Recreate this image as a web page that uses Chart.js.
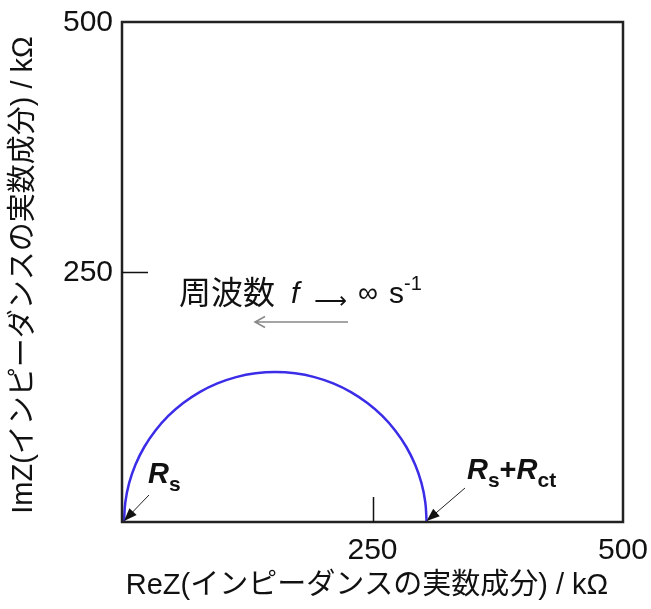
<!DOCTYPE html>
<html>
<head>
<meta charset="utf-8">
<script src="https://cdn.jsdelivr.net/npm/chart.js@4"></script>
<style>
  html, body { margin: 0; padding: 0; background: #fff; }
  #wrap { width: 651px; height: 609px; }
</style>
</head>
<body>
<div id="wrap"><canvas id="myChart" width="651" height="609"></canvas></div>
<script>
// Nyquist plot, values (kOhm)
var reZ = [2, 3.3, 7.1, 13.5, 22.2, 33.2, 46.2, 61.1, 77.5, 95.2, 113.9, 133.3, 153,
           172.7, 192.1, 210.8, 228.5, 244.9, 259.8, 272.8, 283.8, 292.5, 298.9, 302.7, 304];
var imZ = [0, 19.6, 38.8, 57.4, 75, 91.3, 106.1, 119, 129.9, 138.6, 144.9, 148.7, 150,
           148.7, 144.9, 138.6, 129.9, 119, 106.1, 91.3, 75, 57.4, 38.8, 19.6, 0];
var xTicks = [250, 500];
var yTicks = [250, 500];
var xTitle = 'ReZ(インピーダンスの実数成分) / kΩ';
var yTitle = 'ImZ(インピーダンスの実数成分) / kΩ';

var LAT = '"Liberation Sans", "Noto Sans CJK JP", sans-serif';

function arrowFilled(ctx, x1, y1, x2, y2) {
    var a = Math.atan2(y2 - y1, x2 - x1);
    ctx.strokeStyle = '#222';
    ctx.fillStyle = '#111';
    ctx.lineWidth = 1;
    ctx.beginPath();
    ctx.moveTo(x1, y1);
    ctx.lineTo(x2 - 10 * Math.cos(a), y2 - 10 * Math.sin(a));
    ctx.stroke();
    ctx.beginPath();
    ctx.moveTo(x2, y2);
    ctx.lineTo(x2 - 13 * Math.cos(a) + 5 * Math.sin(a), y2 - 13 * Math.sin(a) - 5 * Math.cos(a));
    ctx.lineTo(x2 - 13 * Math.cos(a) - 5 * Math.sin(a), y2 - 13 * Math.sin(a) + 5 * Math.cos(a));
    ctx.closePath();
    ctx.fill();
}

// draws the parts of a label one after another (r.x = fixed position if given)
function drawRuns(ctx, x, runs) {
    runs.forEach(function(r) {
        ctx.font = r.font;
        ctx.fillStyle = '#111';
        ctx.textAlign = 'left';
        ctx.textBaseline = 'alphabetic';
        if (r.x !== undefined) x = r.x;
        ctx.fillText(r.t, x, r.y);
        x += ctx.measureText(r.t).width;
    });
}

var decor = {
    id: 'decor',
    afterDraw: function(chart) {
        var ctx = chart.ctx;
        var a = chart.chartArea;
        var xs = chart.scales.x, ys = chart.scales.y;
        ctx.save();

        // frame
        ctx.strokeStyle = '#222';
        ctx.lineWidth = 2.5;
        ctx.strokeRect(a.left, a.top, a.right - a.left, a.bottom - a.top);

        // inner ticks
        ctx.strokeStyle = '#111';
        ctx.lineWidth = 1.5;
        ctx.beginPath();
        var ty = Math.round(ys.getPixelForValue(250)) + 0.5;
        ctx.moveTo(a.left, ty); ctx.lineTo(a.left + 26, ty);
        var tx = Math.round(xs.getPixelForValue(250)) + 0.5;
        ctx.moveTo(tx, a.bottom); ctx.lineTo(tx, a.bottom - 25);
        ctx.stroke();

        // tick labels
        ctx.fillStyle = '#111';
        ctx.font = '30px ' + LAT;
        ctx.textAlign = 'right';
        ctx.textBaseline = 'middle';
        yTicks.forEach(function(v) {
            ctx.fillText(String(v), a.left - 9, ys.getPixelForValue(v) + 1);
        });
        ctx.textAlign = 'center';
        ctx.textBaseline = 'alphabetic';
        xTicks.forEach(function(v) {
            ctx.fillText(String(v), xs.getPixelForValue(v), a.bottom + 37);
        });

        // axis titles
        ctx.font = '29px ' + LAT;
        ctx.fillText(xTitle, 367, 594);
        ctx.save();
        ctx.translate(24, 275);
        ctx.rotate(-Math.PI / 2);
        ctx.textBaseline = 'middle';
        ctx.fillText(yTitle, 0, 0);
        ctx.restore();

        // frequency note
        drawRuns(ctx, 179, [
            { t: '周波数', font: '32px ' + LAT, y: 304 },
            { t: 'f', font: 'italic 30px ' + LAT, y: 303, x: 291 },
            { t: '⟶', font: '23px "DejaVu Sans", sans-serif', y: 308, x: 314 },
            { t: '∞', font: '28px ' + LAT, y: 302, x: 358 },
            { t: 's', font: '30px ' + LAT, y: 303, x: 389 },
            { t: '-1', font: '20px ' + LAT, y: 290 }
        ]);
        ctx.strokeStyle = '#888';
        ctx.lineWidth = 1.5;
        ctx.beginPath();
        ctx.moveTo(348, 322); ctx.lineTo(255, 322);
        ctx.moveTo(265, 316.5); ctx.lineTo(255, 322); ctx.lineTo(265, 327.5);
        ctx.stroke();

        // Rs and Rs+Rct labels
        var bi = 'italic bold 29px ' + LAT;
        var sb = 'bold 21px ' + LAT;
        drawRuns(ctx, 148, [
            { t: 'R', font: bi, y: 483 },
            { t: 's', font: sb, y: 491 }
        ]);
        drawRuns(ctx, 467, [
            { t: 'R', font: bi, y: 479 },
            { t: 's', font: sb, y: 487 },
            { t: '+', font: 'bold 29px ' + LAT, y: 479 },
            { t: 'R', font: bi, y: 479 },
            { t: 'ct', font: sb, y: 487 }
        ]);
        arrowFilled(ctx, 149, 495, xs.getPixelForValue(reZ[0]), ys.getPixelForValue(0) - 1);
        arrowFilled(ctx, 465, 488, xs.getPixelForValue(reZ[reZ.length - 1]), ys.getPixelForValue(0) - 1);

        ctx.restore();
    }
};

var points = reZ.map(function(v, i) { return { x: v, y: imZ[i] }; });

var myChart = new Chart(
    document.getElementById('myChart'),
    {
        type: 'scatter',
        data: {
            datasets: [{
                data: points,
                showLine: true,
                borderColor: '#3b2ce8',
                borderWidth: 2.5,
                pointRadius: 0,
                tension: 0.4,
                fill: false
            }]
        },
        options: {
            responsive: false,
            animation: false,
            layout: { padding: { left: 122, top: 22, right: 28, bottom: 87 } },
            plugins: { legend: { display: false }, tooltip: { enabled: false } },
            scales: {
                x: { type: 'linear', min: 0, max: 500, display: false },
                y: { type: 'linear', min: 0, max: 500, display: false }
            }
        },
        plugins: [decor]
    }
);
</script>
</body>
</html>
